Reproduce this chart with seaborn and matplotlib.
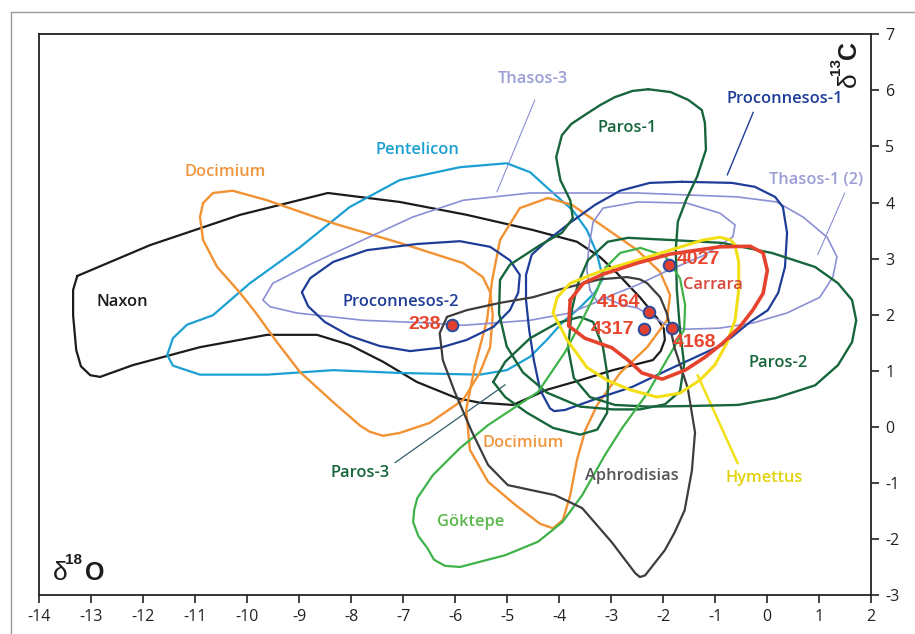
import numpy as np
import pandas as pd
import matplotlib
matplotlib.use("Agg")
import matplotlib.pyplot as plt
import seaborn as sns
from matplotlib.lines import Line2D

# ---------------- data (delta18O = x, delta13C = y) ----------------
naxon_x = [-13.27,-11.87,-10.14,-8.45,-7.07,-5.78,-4.51,-3.66,-3.22,-2.89,-2.45,-2.12,-1.99,-1.97,-2.05,-2.20,-2.97,-3.60,-4.24,-4.89,-5.53,-5.97,-6.74,-7.39,-8.03,-8.66,-9.62,-10.91,-12.20,-12.83,-13.02,-13.20,-13.29,-13.35,-13.35]
naxon_y = [2.69,3.24,3.78,4.17,4.01,3.78,3.51,3.30,3.03,2.74,2.31,1.94,1.75,1.55,1.35,1.19,1.01,0.83,0.66,0.39,0.43,0.51,0.80,1.16,1.46,1.64,1.64,1.42,1.10,0.89,0.92,1.08,1.37,1.99,2.44]

aphro_x = [-6.16,-5.78,-5.14,-4.51,-3.99,-3.22,-2.70,-2.45,-2.31,-2.06,-1.93,-1.78,-1.53,-1.39,-1.45,-1.59,-1.78,-1.97,-2.35,-2.45,-2.54,-2.99,-3.56,-4.08,-4.99,-5.37,-5.68,-6.01,-6.24,-6.30]
aphro_y = [1.96,2.08,2.21,2.31,2.45,2.63,2.67,2.63,2.56,2.31,2.02,1.40,0.69,-0.10,-0.78,-1.49,-1.88,-2.20,-2.65,-2.68,-2.61,-2.06,-1.45,-1.22,-1.04,-0.68,-0.09,0.62,1.19,1.67]

paros1_x = [-2.29,-1.86,-1.52,-1.26,-1.20,-1.18,-1.35,-1.56,-1.72,-1.76,-1.74,-1.68,-1.60,-1.68,-1.97,-2.45,-2.97,-3.60,-4.24,-4.70,-5.01,-5.16,-5.14,-4.95,-4.37,-3.95,-3.74,-3.79,-3.98,-4.06,-3.95,-3.77,-3.51,-3.21,-2.93,-2.59]
paros1_y = [6.02,5.97,5.83,5.65,5.42,4.94,4.46,4.05,3.66,3.16,2.45,1.74,1.11,0.63,0.40,0.31,0.31,0.36,0.61,0.97,1.43,2.03,2.62,2.89,3.24,3.46,3.72,4.04,4.40,4.81,5.20,5.40,5.56,5.74,5.88,5.99]

paros2_x = [-3.76,-3.64,-3.45,-3.07,-2.68,-1.83,-0.87,0.09,0.92,1.36,1.63,1.71,1.63,1.36,0.92,0.15,-0.56,-1.52,-2.29,-2.93,-3.41,-3.72,-3.83]
paros2_y = [2.08,2.56,2.97,3.30,3.37,3.33,3.28,3.10,2.85,2.56,2.26,1.90,1.51,1.10,0.74,0.51,0.39,0.37,0.36,0.39,0.53,0.87,1.40]

paros3_x = [-5.27,-5.04,-4.56,-4.04,-3.60,-3.35,-3.16,-3.06,-3.08,-3.27,-3.60,-4.12,-4.62,-5.04]
paros3_y = [0.80,1.16,1.58,1.85,1.96,1.87,1.42,0.84,0.25,-0.05,-0.14,-0.02,0.25,0.53]

procon1_x = [-1.64,-0.68,-0.24,0.15,0.30,0.38,0.34,0.21,0.01,-0.33,-0.87,-1.83,-2.60,-3.26,-3.89,-4.10,-4.18,-4.37,-4.49,-4.58,-4.64,-4.64,-4.53,-4.22,-3.79,-3.31,-2.83,-2.26]
procon1_y = [4.37,4.35,4.28,4.10,3.92,3.46,2.85,2.39,2.08,1.87,1.46,1.05,0.71,0.51,0.30,0.28,0.33,0.66,1.19,1.73,2.26,2.71,3.07,3.33,3.64,3.96,4.21,4.35]

procon2_x = [-8.95,-8.79,-8.35,-7.70,-6.74,-5.91,-5.33,-4.95,-4.76,-4.79,-4.95,-5.27,-5.78,-6.29,-6.87,-7.45,-8.03,-8.51,-8.83]
procon2_y = [2.40,2.65,2.94,3.15,3.26,3.31,3.21,2.97,2.71,2.39,2.08,1.78,1.55,1.41,1.35,1.44,1.62,1.87,2.15]

thasos3_x = [-3.27,-3.79,-4.56,-5.85,-6.49,-7.78,-9.05,-9.56,-9.70,-9.51,-8.74,-7.78,-6.82,-5.85,-4.56,-3.79,-2.50,-0.58,0.18,0.69,1.15,1.34,1.26,1.01,0.38,-0.28,-0.91,-1.55,-1.87,-2.20,-2.50,-2.77,-3.16]
thasos3_y = [2.23,2.03,1.90,1.81,1.85,1.90,2.03,2.14,2.26,2.56,2.92,3.33,3.74,4.04,4.17,4.17,4.17,4.10,4.01,3.74,3.38,3.03,2.67,2.31,2.03,1.85,1.76,1.74,1.78,1.96,2.12,2.17,2.31]

thasos1_x = [-3.41,-3.47,-3.43,-3.35,-3.16,-2.50,-1.55,-0.91,-0.62,-0.66,-0.91,-1.24,-1.62,-1.93,-2.50,-2.96,-3.27]
thasos1_y = [2.44,2.80,3.21,3.65,3.90,4.01,3.99,3.81,3.60,3.39,3.24,3.05,2.90,2.78,2.53,2.36,2.23]

pentel_x = [-11.54,-11.43,-11.16,-10.66,-9.95,-8.99,-8.03,-7.07,-5.91,-5.01,-4.56,-4.18,-3.74,-3.47,-3.28,-3.16,-3.31,-3.60,-3.93,-4.24,-4.56,-5.01,-5.53,-7.07,-8.35,-9.62,-10.91,-11.43]
pentel_y = [1.28,1.58,1.82,1.99,2.56,3.20,3.92,4.40,4.63,4.70,4.54,4.22,3.86,3.51,3.10,2.65,2.40,2.13,1.87,1.55,1.25,1.01,0.93,0.96,1.01,0.93,0.93,1.09]

docim1_x = [-10.85,-10.66,-10.28,-9.62,-8.35,-7.07,-5.85,-5.47,-5.33,-5.28,-5.33,-5.53,-5.85,-6.49,-7.07,-7.39,-7.64,-7.83,-8.35,-8.99,-9.43,-9.85,-10.14,-10.58,-10.85,-10.91]
docim1_y = [3.99,4.17,4.21,4.04,3.63,3.28,2.92,2.67,2.40,1.99,1.42,0.96,0.48,0.07,-0.11,-0.16,-0.09,0.02,0.44,0.98,1.51,2.05,2.39,2.85,3.33,3.74]

docim2_x = [-4.22,-3.76,-3.12,-2.50,-2.06,-1.87,-1.93,-2.31,-2.83,-3.27,-3.50,-3.66,-3.79,-3.93,-4.12,-4.37,-4.85,-5.37,-5.72,-5.79,-5.62,-5.39,-5.29,-5.14,-4.76]
docim2_y = [4.08,3.96,3.55,3.15,2.76,2.35,1.90,1.42,0.96,0.39,-0.06,-0.59,-1.22,-1.66,-1.81,-1.73,-1.39,-0.98,-0.41,0.30,1.10,1.90,2.62,3.33,3.90]

goktepe_x = [-2.44,-1.97,-1.68,-1.58,-1.60,-1.91,-2.29,-2.79,-3.12,-3.56,-3.94,-4.41,-5.04,-5.91,-6.20,-6.41,-6.54,-6.71,-6.81,-6.79,-6.73,-6.43,-5.91,-5.37,-4.41,-3.89,-3.54,-3.27,-3.12,-2.83]
goktepe_y = [3.19,3.05,2.65,2.17,1.73,1.23,0.62,-0.02,-0.50,-1.22,-1.70,-2.05,-2.29,-2.50,-2.48,-2.37,-2.16,-1.95,-1.70,-1.48,-1.27,-0.86,-0.38,0.03,0.62,1.33,1.94,2.44,2.83,3.10]

hymet_x = [-4.04,-3.79,-3.16,-2.50,-1.87,-1.24,-0.91,-0.70,-0.62,-0.55,-0.55,-0.62,-0.78,-1.01,-1.30,-1.68,-2.12,-2.64,-3.08,-3.47,-3.85,-4.12]
hymet_y = [2.31,2.56,2.79,2.97,3.15,3.33,3.38,3.33,3.24,2.94,2.44,1.90,1.49,1.10,0.83,0.60,0.53,0.66,0.83,1.06,1.55,2.03]

carrara_x = [-3.79,-3.54,-3.16,-2.50,-1.87,-0.91,-0.33,-0.08,0.00,-0.08,-0.28,-0.53,-0.86,-1.20,-1.58,-2.02,-2.41,-2.68,-2.99,-3.51,-3.82]
carrara_y = [2.26,2.56,2.72,2.92,3.08,3.21,3.22,3.10,2.79,2.38,2.08,1.78,1.49,1.24,1.01,0.85,0.96,1.19,1.41,1.58,1.80]

# samples
sample_ids = ["238", "4027", "4164", "4317", "4168"]
sample_x = [-6.06, -1.89, -2.28, -2.38, -1.84]
sample_y = [1.82, 2.89, 2.05, 1.74, 1.76]

# field names
field_names = ["Naxon", "Pentelicon", "Docimium", "Proconnesos-2", "Thasos-3", "Paros-1",
               "Proconnesos-1", "Thasos-1 (2)", "Carrara", "Paros-2", "Paros-3",
               "Docimium", "Aphrodisias", "Göktepe", "Hymettus"]
name_x = [-12.41, -6.72, -10.43, -7.04, -4.50, -2.69, 0.34, 0.94, -1.04, 0.20, -7.83, -4.69, -2.60, -5.71, -0.06]
name_y = [2.23, 4.94, 4.54, 2.23, 6.20, 5.33, 5.85, 4.40, 2.53, 1.14, -0.82, -0.29, -0.88, -1.70, -0.92]

x_ticks = list(range(-14, 3))
y_ticks = list(range(-3, 8))

# ---------------- styling ----------------
sns.set_theme(style="white")
plt.rcParams["font.family"] = ["Open Sans", "DejaVu Sans"]

fig = plt.figure(figsize=(9.15, 6.34), dpi=100)
ax = fig.add_axes([39.3/915, 1-595/634, (871.3-39.3)/915, (595-34.3)/634])

C_BLACK = "#1c1c1c"; C_APH = "#3d3d3d"; C_PEN = "#1ca0d3"; C_DOC = "#f29233"
C_PRO = "#1e3d98"; C_THA = "#8b8fd4"; C_PAR = "#17663b"; C_GOK = "#3fb34a"
C_HYM = "#f3df16"; C_CAR = "#e5432d"

loops = [
    (naxon_x, naxon_y, C_BLACK, 1.6),
    (pentel_x, pentel_y, C_PEN, 1.6),
    (docim1_x, docim1_y, C_DOC, 1.7),
    (docim2_x, docim2_y, C_DOC, 1.7),
    (thasos3_x, thasos3_y, C_THA, 1.2),
    (thasos1_x, thasos1_y, C_THA, 1.2),
    (procon2_x, procon2_y, C_PRO, 1.6),
    (procon1_x, procon1_y, C_PRO, 1.6),
    (paros1_x, paros1_y, C_PAR, 1.7),
    (paros2_x, paros2_y, C_PAR, 1.7),
    (paros3_x, paros3_y, C_PAR, 1.7),
    (goktepe_x, goktepe_y, C_GOK, 1.6),
    (aphro_x, aphro_y, C_APH, 1.6),
    (hymet_x, hymet_y, C_HYM, 2.2),
    (carrara_x, carrara_y, C_CAR, 2.6),
]
for i, (xs, ys, col, lw) in enumerate(loops):
    d = pd.DataFrame({"x": list(xs) + [xs[0]], "y": list(ys) + [ys[0]]})
    sns.lineplot(data=d, x="x", y="y", sort=False, estimator=None, color=col,
                 lw=lw, ax=ax, zorder=2 + i * 0.1,
                 solid_joinstyle="round", solid_capstyle="round")

# leader lines
leaders = [
    ([-0.27, -0.77], [5.61, 4.49], C_PRO, 1.0),
    ([-4.47, -5.20], [5.83, 4.19], C_THA, 0.8),
    ([1.49, 0.97], [4.17, 3.07], C_THA, 0.8),
    ([-7.16, -5.04], [-0.64, 0.75], "#2f5f6a", 0.9),
    ([-1.34, -0.57], [0.92, -0.65], C_HYM, 1.8),
]
for lx, ly, col, lw in leaders:
    sns.lineplot(x=lx, y=ly, sort=False, estimator=None, color=col, lw=lw, ax=ax, zorder=2)

# sample points
sns.scatterplot(x=sample_x, y=sample_y, color="#e2402e", edgecolor="#2a4b9e",
                s=70, linewidth=1.4, ax=ax, zorder=10)
lab_off = {"238": (-0.22, 0.0, "right"), "4027": (0.14, 0.1, "left"),
           "4164": (-0.17, 0.17, "right"), "4317": (-0.17, -0.01, "right"),
           "4168": (0.03, -0.25, "left")}
for sid, sx, sy in zip(sample_ids, sample_x, sample_y):
    dx, dy, ha = lab_off[sid]
    ax.text(sx + dx, sy + dy, sid, color="#e8452f", fontsize=14, fontweight="bold",
            ha=ha, va="center", family=["Liberation Sans", "DejaVu Sans"], zorder=11)

name_colors = [C_BLACK, "#1a9fd0", "#f0963f", C_PRO, "#9a9dd6", C_PAR, C_PRO, "#9a9dd6",
               "#d7473a", C_PAR, C_PAR, "#f0963f", "#555555", "#5bb84a", "#e2d20a"]
for nm, nx, ny, nc in zip(field_names, name_x, name_y, name_colors):
    ax.text(nx, ny, nm, color=nc, fontsize=11.8, fontweight="semibold",
            ha="center", va="center", zorder=12)

# axis titles inside the frame
LS = ["Liberation Sans", "DejaVu Sans"]
ax.text(-13.74, -2.61, "δ", fontsize=19, color=C_BLACK, ha="left", va="center",
        family=LS, zorder=12)
ax.text(-13.51, -2.38, "18", fontsize=11, fontweight="bold", color=C_BLACK,
        ha="left", va="center", family=LS, zorder=12)
ax.text(-13.12, -2.61, "O", fontsize=18, fontweight="bold", color=C_BLACK,
        ha="left", va="center", family=LS, zorder=12)

ax.text(1.56, 6.19, "δ", fontsize=19, color=C_BLACK, rotation=90, ha="center",
        va="center", family=LS, zorder=12)
ax.text(1.33, 6.43, "13", fontsize=11, fontweight="bold", color=C_BLACK, rotation=90,
        ha="center", va="center", family=LS, zorder=12)
ax.text(1.57, 6.72, "C", fontsize=18, fontweight="bold", color=C_BLACK, rotation=90,
        ha="center", va="center", family=LS, zorder=12)

ax.set_xlim(-14, 2)
ax.set_ylim(-3, 7)
ax.set_xticks(x_ticks)
ax.set_yticks(y_ticks)
ax.set_xticklabels([str(v) for v in x_ticks])
ax.set_yticklabels([str(v) for v in y_ticks])
ax.set_xlabel("")
ax.set_ylabel("")
ax.yaxis.tick_right()
ax.tick_params(axis="x", bottom=True, top=False, direction="out", length=6, width=1.2,
               labelsize=11.5, colors="#222222", pad=4)
ax.tick_params(axis="y", left=False, right=True, labelleft=False, labelright=True,
               direction="out", length=6, width=1.2, labelsize=11.5, colors="#222222", pad=4)
for s in ax.spines.values():
    s.set_visible(True)
    s.set_color("#222222")
    s.set_linewidth(1.3)

# outer thin frame of the figure
fig.add_artist(Line2D([11/915, 11/915], [0, 1-12/634], transform=fig.transFigure,
                      color="#9a9a9a", lw=1.0))
fig.add_artist(Line2D([11/915, 1], [1-12/634, 1-12/634], transform=fig.transFigure,
                      color="#9a9a9a", lw=1.0))

fig.savefig("out.png", dpi=100)
